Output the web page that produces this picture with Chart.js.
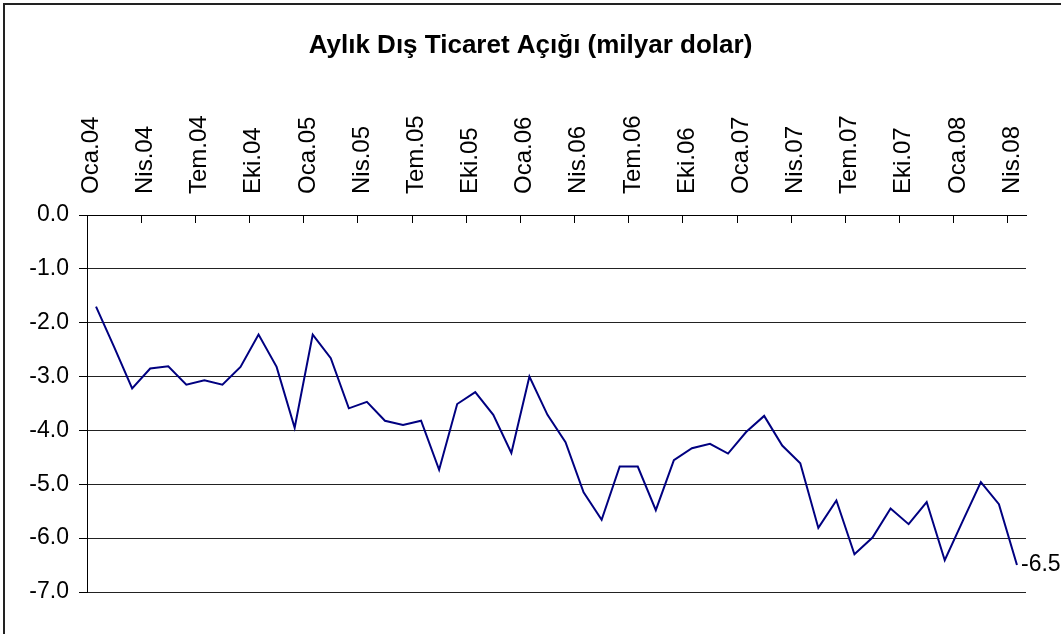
<!DOCTYPE html>
<html>
<head>
<meta charset="utf-8">
<script src="https://cdn.jsdelivr.net/npm/chart.js@4"></script>
<style>
  body { margin: 0; background: #fff; }
</style>
</head>
<body>
<canvas id="myChart" width="1061" height="634"></canvas>
<script>
// months shown on the category axis (every third one gets a label)
const months = [
  "Oca.04", "Şub.04", "Mar.04", "Nis.04", "May.04", "Haz.04", "Tem.04", "Ağu.04", "Eyl.04", "Eki.04", "Kas.04", "Ara.04",
  "Oca.05", "Şub.05", "Mar.05", "Nis.05", "May.05", "Haz.05", "Tem.05", "Ağu.05", "Eyl.05", "Eki.05", "Kas.05", "Ara.05",
  "Oca.06", "Şub.06", "Mar.06", "Nis.06", "May.06", "Haz.06", "Tem.06", "Ağu.06", "Eyl.06", "Eki.06", "Kas.06", "Ara.06",
  "Oca.07", "Şub.07", "Mar.07", "Nis.07", "May.07", "Haz.07", "Tem.07", "Ağu.07", "Eyl.07", "Eki.07", "Kas.07", "Ara.07",
  "Oca.08", "Şub.08", "Mar.08", "Nis.08"
];

// monthly foreign trade deficit, billion dollars
const deficit = [
  -1.70, -2.45, -3.22, -2.85, -2.81, -3.15, -3.07, -3.15, -2.82, -2.22, -2.82, -3.95,
  -2.22, -2.66, -3.59, -3.47, -3.82, -3.90, -3.82, -4.73, -3.51, -3.29, -3.71, -4.42,
  -3.00, -3.71, -4.22, -5.15, -5.66, -4.67, -4.67, -5.48, -4.55, -4.33, -4.25, -4.43,
  -4.03, -3.73, -4.28, -4.61, -5.81, -5.30, -6.30, -5.99, -5.45, -5.74, -5.33, -6.41,
  -5.68, -4.96, -5.37, -6.50
];

const yTicks = [0, -1, -2, -3, -4, -5, -6, -7];

const FONT = "'Liberation Sans', Arial, sans-serif";

// thin frame on the top and left, like the pasted Excel chart
const framePlugin = {
  id: "frame",
  beforeDraw(chart) {
    const ctx = chart.ctx;
    ctx.save();
    ctx.fillStyle = "#222";
    ctx.fillRect(3, 3, chart.width, 2);
    ctx.fillRect(3, 3, 2, chart.height);
    ctx.restore();
  }
};

// value label next to the last point only
const lastLabelPlugin = {
  id: "lastLabel",
  afterDatasetsDraw(chart) {
    const meta = chart.getDatasetMeta(0);
    const last = meta.data[meta.data.length - 1];
    const ctx = chart.ctx;
    ctx.save();
    ctx.font = "23px " + FONT;
    ctx.fillStyle = "#000";
    ctx.textAlign = "left";
    ctx.textBaseline = "middle";
    ctx.fillText(deficit[deficit.length - 1].toFixed(1), last.x + 4, last.y);
    ctx.restore();
  }
};

let ctx = document.getElementById("myChart");
let myChart = new Chart(ctx, {
  type: "line",
  data: {
    labels: months,
    datasets: [
      {
        label: "Aylık Dış Ticaret Açığı",
        data: deficit,
        borderColor: "#000080",
        borderWidth: 2,
        pointRadius: 0,
        tension: 0,
        fill: false
      }
    ]
  },
  options: {
    responsive: false,
    animation: false,
    layout: {
      padding: { left: 0, right: 0, top: 0, bottom: 42 }
    },
    plugins: {
      legend: { display: false },
      tooltip: { enabled: false },
      title: {
        display: true,
        text: "Aylık Dış Ticaret Açığı (milyar dolar)",
        color: "#000",
        font: { family: FONT, size: 26, weight: "bold", lineHeight: 1.2 },
        padding: { top: 30, bottom: 0 }
      }
    },
    scales: {
      x: {
        position: "top",
        offset: true,
        grid: {
          offset: true,
          drawOnChartArea: false,
          tickLength: -8,
          tickColor: c => (c.index !== undefined && c.index % 3 === 0 ? "#000" : "rgba(0,0,0,0)")
        },
        border: { display: true, color: "#000", width: 1 },
        ticks: {
          autoSkip: false,
          minRotation: 90,
          maxRotation: 90,
          padding: 29,
          labelOffset: 24,
          color: "#000",
          font: { family: FONT, size: 24 },
          callback: function (value, index) {
            return index % 3 === 0 ? months[index] : "";
          }
        },
        afterFit: scale => {
          scale.height = 215 - 30 - 26 * 1.2;
        }
      },
      y: {
        position: "left",
        min: -7,
        max: 0,
        afterBuildTicks: scale => {
          scale.ticks = yTicks.map(v => ({ value: v }));
        },
        grid: {
          color: "#222",
          lineWidth: 1,
          tickLength: 8,
          tickColor: "#000"
        },
        border: { display: true, color: "#000", width: 1 },
        ticks: {
          padding: 10,
          color: "#000",
          font: { family: FONT, size: 23 },
          callback: v => Number(v).toFixed(1)
        },
        afterFit: scale => {
          scale.width = 87;
        }
      },
      // empty right-hand axis, only keeps the plot area off the right edge
      yRight: {
        position: "right",
        grid: { display: false },
        border: { display: false },
        ticks: { display: false },
        afterFit: scale => {
          scale.width = 35;
        }
      }
    }
  },
  plugins: [framePlugin, lastLabelPlugin]
});
</script>
</body>
</html>
